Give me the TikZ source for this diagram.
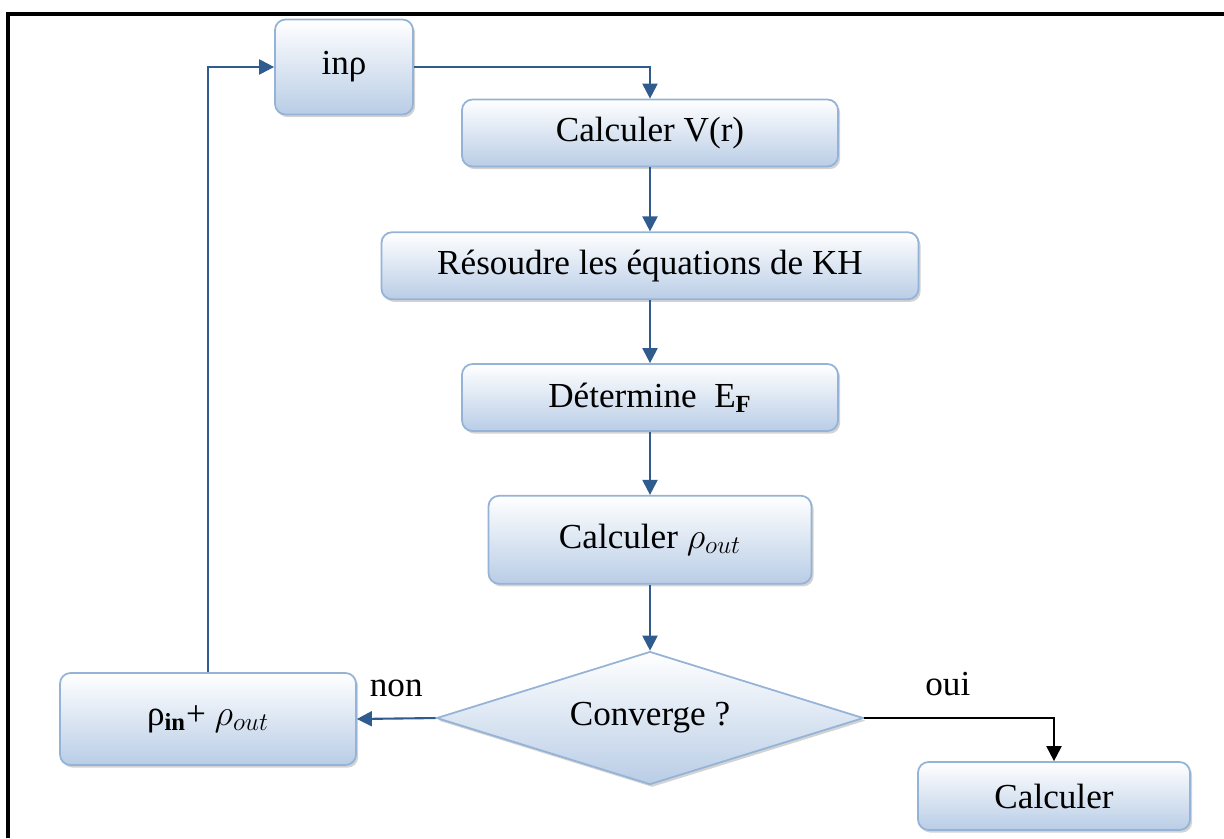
\documentclass[tikz,border=0pt]{standalone}
\usepackage{fontspec}
\setmainfont{Liberation Serif}
\usetikzlibrary{arrows.meta,positioning,shapes.geometric,shadows}
\definecolor{flowblue}{HTML}{2F5B8F}
\definecolor{flowedge}{HTML}{95B3D7}
\definecolor{flowsky}{HTML}{B9CDE6}
\definecolor{flowframe}{HTML}{000000}

\begin{document}
\begin{tikzpicture}[x=0.2mm,y=-0.2mm,
  box/.style={draw=flowedge,line width=1pt,top color=white,bottom color=flowsky,
              rounded corners=6pt,align=center,font=\fontsize{20}{24}\selectfont,
              drop shadow={shadow xshift=1.2pt,shadow yshift=-1.5pt,opacity=0.35}},
  cond/.style={diamond,aspect=3.2,draw=flowedge,line width=1pt,top color=white,
              bottom color=flowsky,minimum width=85.4mm,minimum height=26.6mm,
              inner sep=0pt,font=\fontsize{20}{24}\selectfont,
              drop shadow={shadow xshift=1.2pt,shadow yshift=-1.5pt,opacity=0.35}},
  arr/.style={-{Triangle[length=3mm,width=3mm]},line width=1.2pt,flowblue,
              font=\fontsize{20}{24}\selectfont},
  yes/.style={arr,black}]
  \useasboundingbox (0,0) rectangle (1224,838);
  \draw[flowframe,line width=0.8mm] (8,838) -- (8,14) -- (1224,14);
  \node[box,minimum width=27.6mm,minimum height=19mm] (inrho) at (344,67) {inρ};
  \node[box,minimum width=75.2mm,minimum height=13.4mm] (vr) at (650,133) {Calculer V(r)};
  \node[box,minimum width=107.4mm,minimum height=13.4mm,below=12.8mm of vr] (kh)
       {Résoudre les équations de KH};
  \node[box,minimum width=75.2mm,minimum height=13.4mm,below=12.6mm of kh] (ef)
       {Détermine\ \ E\textsubscript{\textbf{F}}};
  \node[box,minimum width=64.6mm,minimum height=17.6mm,below=12.6mm of ef] (rout)
       {Calculer $\rho_{out}$};
  \node[cond,below=13.2mm of rout] (conv) {Converge ?};
  \node[box,minimum width=59.2mm,minimum height=18.4mm] (mix) at (208,719)
       {ρ\textsubscript{\textbf{in}}+ $\rho_{out}$};
  \node[box,minimum width=54.4mm,minimum height=13.6mm] (fin) at (1054,796) {Calculer};
  \draw[arr] (inrho.east) -| (vr.north);
  \draw[arr] (vr.south) -- (kh.north);
  \draw[arr] (kh.south) -- (ef.north);
  \draw[arr] (ef.south) -- (rout.north);
  \draw[arr] (rout.south) -- (conv.north);
  \draw[arr] (conv.west) -- node[above=3mm,black]{non} (mix.east);
  \draw[arr] (mix.north) |- (inrho.west);
  \draw[yes] (conv.east) -| node[pos=0.22,above=3mm]{oui} (fin.north);
\end{tikzpicture}
\end{document}
